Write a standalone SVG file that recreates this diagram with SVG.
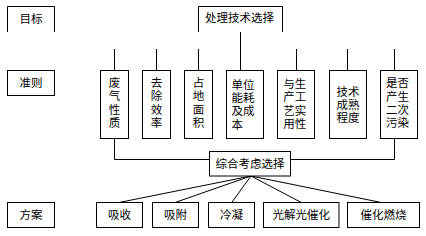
<svg xmlns="http://www.w3.org/2000/svg" width="426" height="236" viewBox="0 0 426 236">
<style>
.b{fill:#fff;stroke:#000;stroke-width:1}
.o{fill:none;stroke:#000;stroke-width:1}
.l{fill:none;stroke:#000;stroke-width:1}
text{font-family:"Noto Sans CJK SC","Liberation Sans",sans-serif;font-size:11.5px;fill:#000}
.c{text-anchor:middle}
</style>
<rect width="426" height="236" fill="#fff"/>
<g id="connectors">
<path class="l" d="M240.5,32 V70.5"/>
<path class="l" d="M114.5,49 V70.5 M156.5,49 V70.5 M198.5,49 V70.5 M296.5,49 V70.5 M347.5,49 V70.5 M394.5,49 V70.5"/>
<path class="l" d="M114.5,138.5 V159.5 H209.5 M291,159.5 H394.5 V138.5"/>
<path class="l" d="M251,176 L119,202.5 M251,176 L175,202.5 M251,176 L231.7,202.5 M251,176 L301.3,202.5 M251,176 L381.3,202.5"/>
</g>
<g id="goal"><path class="o" d="M7.5,32 V6.5 H54.5 V32"/><text class="c" x="31" y="23">目标</text></g>
<g id="tech"><path class="o" d="M198.5,32 V6.5 H282.5 V32"/><text class="c" x="239.5" y="22">处理技术选择</text></g>
<g id="criteria"><rect class="b" x="7.5" y="70.5" width="47" height="25"/><text class="c" x="31" y="87">准则</text></g>
<g id="plan"><rect class="b" x="7.5" y="202.5" width="47" height="25"/><text class="c" x="31" y="219">方案</text></g>
<g id="c1"><rect class="b" x="100.5" y="70.5" width="28" height="68"/>
<text class="c" x="114.5"><tspan x="114.5" y="86.7">废</tspan><tspan x="114.5" y="100.1">气</tspan><tspan x="114.5" y="113.5">性</tspan><tspan x="114.5" y="126.9">质</tspan></text></g>
<g id="c2"><rect class="b" x="142.5" y="70.5" width="28" height="68"/>
<text class="c" x="156.5"><tspan x="156.5" y="86.7">去</tspan><tspan x="156.5" y="100.1">除</tspan><tspan x="156.5" y="113.5">效</tspan><tspan x="156.5" y="126.9">率</tspan></text></g>
<g id="c3"><rect class="b" x="184.5" y="70.5" width="28" height="68"/>
<text class="c" x="198.5"><tspan x="198.5" y="86.7">占</tspan><tspan x="198.5" y="100.1">地</tspan><tspan x="198.5" y="113.5">面</tspan><tspan x="198.5" y="126.9">积</tspan></text></g>
<g id="c4"><rect class="b" x="226.5" y="70.5" width="37" height="68"/>
<text><tspan x="231.5" y="88.5">单位</tspan><tspan x="231.5" y="101.9">能耗</tspan><tspan x="231.5" y="115.3">及成</tspan><tspan x="231.5" y="128.7">本</tspan></text></g>
<g id="c5"><rect class="b" x="277.5" y="70.5" width="37" height="68"/>
<text><tspan x="283.3" y="87.7">与生</tspan><tspan x="283.3" y="101.1">产工</tspan><tspan x="283.3" y="114.5">艺实</tspan><tspan x="283.3" y="127.9">用性</tspan></text></g>
<g id="c6"><rect class="b" x="329.5" y="70.5" width="37" height="68"/>
<text><tspan x="336.5" y="95.6">技术</tspan><tspan x="336.5" y="109">成熟</tspan><tspan x="336.5" y="122.4">程度</tspan></text></g>
<g id="c7"><rect class="b" x="380.5" y="70.5" width="37" height="68"/>
<text><tspan x="386" y="87.1">是否</tspan><tspan x="386" y="100.5">产生</tspan><tspan x="386" y="113.9">二次</tspan><tspan x="386" y="127.3">污染</tspan></text></g>
<g id="combine"><rect class="b" x="209.5" y="151.5" width="81" height="24.5"/><text class="c" x="250" y="167.7">综合考虑选择</text></g>
<g id="p1"><rect class="b" x="96.5" y="202.5" width="46" height="25"/><text class="c" x="119.5" y="219">吸收</text></g>
<g id="p2"><rect class="b" x="152.5" y="202.5" width="46" height="25"/><text class="c" x="175.5" y="219">吸附</text></g>
<g id="p3"><rect class="b" x="208.5" y="202.5" width="46" height="25"/><text class="c" x="231.5" y="219">冷凝</text></g>
<g id="p4"><rect class="b" x="263.5" y="202.5" width="75.5" height="25"/><text class="c" x="301.3" y="219">光解光催化</text></g>
<g id="p5"><rect class="b" x="347.5" y="202.5" width="72" height="25"/><text class="c" x="383.5" y="219">催化燃烧</text></g>
</svg>
